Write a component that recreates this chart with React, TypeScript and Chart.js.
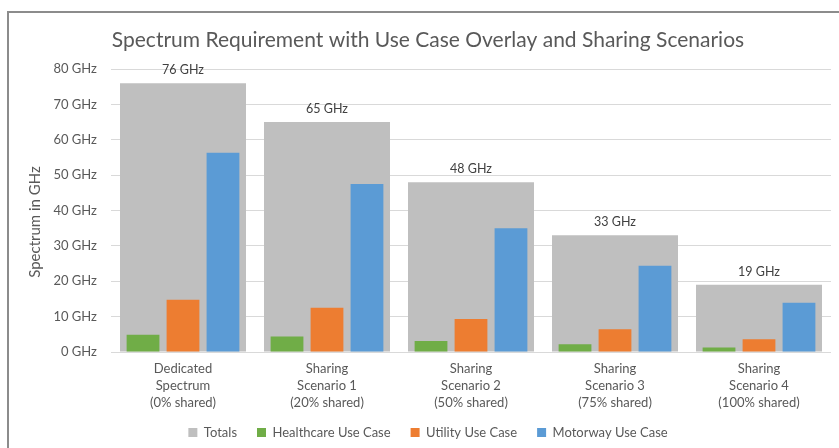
import React, { useEffect, useRef } from "react";
import { Chart, registerables } from "chart.js";

Chart.register(...registerables);

const categories: string[][] = [
  ["Dedicated", "Spectrum", "(0% shared)"],
  ["Sharing", "Scenario 1", "(20% shared)"],
  ["Sharing", "Scenario 2", "(50% shared)"],
  ["Sharing", "Scenario 3", "(75% shared)"],
  ["Sharing", "Scenario 4", "(100% shared)"],
];
const totals = [76, 65, 48, 33, 19];
const healthcare = [4.9, 4.4, 3.1, 2.2, 1.3];
const utility = [14.8, 12.5, 9.3, 6.4, 3.6];
const motorway = [56.3, 47.5, 35.0, 24.4, 13.9];
const yTicks = [0, 10, 20, 30, 40, 50, 60, 70, 80];
const yTitle = "Spectrum in GHz";

const FONT = "Lato, 'Open Sans', sans-serif";
const TXT = "#595959";

const totalsLabelPlugin = {
  id: "totalsLabels",
  afterDatasetsDraw(chart: any) {
    const meta = chart.getDatasetMeta(0);
    const ctx = chart.ctx;
    ctx.save();
    ctx.font = `12.5px ${FONT}`;
    ctx.fillStyle = "#404040";
    ctx.textAlign = "center";
    ctx.textBaseline = "middle";
    meta.data.forEach((bar: any, i: number) => {
      ctx.fillText(`${totals[i]} GHz`, bar.x, bar.y - 13);
    });
    ctx.restore();
  },
};

const yTitlePlugin = {
  id: "yTitle",
  afterDraw(chart: any) {
    const ctx = chart.ctx;
    ctx.save();
    ctx.translate(35, 222);
    ctx.rotate(-Math.PI / 2);
    ctx.font = `15px ${FONT}`;
    ctx.fillStyle = TXT;
    ctx.textAlign = "center";
    ctx.textBaseline = "middle";
    ctx.fillText(yTitle, 0, 0);
    ctx.restore();
  },
};

export default function App() {
  const ref = useRef<HTMLCanvasElement>(null);
  useEffect(() => {
    if (!ref.current) return;
    const chart = new Chart(ref.current, {
      type: "bar",
      data: {
        labels: categories as any,
        datasets: [
          {
            label: "Totals",
            data: totals,
            backgroundColor: "#bfbfbf",
            grouped: false,
            order: 1,
            barPercentage: 0.875,
            categoryPercentage: 1,
          } as any,
          {
            label: "Healthcare Use Case",
            data: healthcare,
            backgroundColor: "#70ad47",
            order: 0,
            barPercentage: 0.82,
            categoryPercentage: 0.833,
          },
          {
            label: "Utility Use Case",
            data: utility,
            backgroundColor: "#ed7d31",
            order: 0,
            barPercentage: 0.82,
            categoryPercentage: 0.833,
          },
          {
            label: "Motorway Use Case",
            data: motorway,
            backgroundColor: "#5b9bd5",
            order: 0,
            barPercentage: 0.82,
            categoryPercentage: 0.833,
          },
        ],
      },
      options: {
        animation: false,
        responsive: false,
        layout: { padding: { left: 25, right: 8, top: 0, bottom: 0 } },
        plugins: {
          title: {
            display: true,
            text: "Spectrum Requirement with Use Case Overlay and Sharing Scenarios",
            color: TXT,
            font: { family: FONT, size: 21, weight: "normal" },
            padding: { top: 27.4, bottom: 16.4 },
          },
          legend: {
            position: "bottom",
            maxHeight: 42,
            labels: {
              boxWidth: 9,
              boxHeight: 9,
              color: TXT,
              font: { family: FONT, size: 13 },
              padding: 20,
              sort: (a: any, b: any) => a.datasetIndex - b.datasetIndex,
            },
          },
          tooltip: { enabled: false },
        },
        scales: {
          x: {
            grid: { display: false },
            border: { display: false },
            ticks: {
              color: TXT,
              font: { family: FONT, size: 13, lineHeight: 17 / 13 },
              padding: 0.5,
              maxRotation: 0,
              autoSkip: false,
            },
            afterFit: (s: any) => {
              s.height = 54;
            },
            afterUpdate: (s: any) => {
              s._computeLabelArea = () => undefined;
            },
          },
          y: {
            min: 0,
            max: 80,
            afterBuildTicks: (s: any) => {
              s.ticks = yTicks.map((v) => ({ value: v }));
            },
            grid: { color: "#d9d9d9", drawTicks: false },
            border: { display: false },
            ticks: {
              color: TXT,
              font: { family: FONT, size: 13 },
              padding: 14,
              callback: (v: any) => `${v} GHz`,
            },
            afterFit: (s: any) => {
              s.width = 86;
            },
          },
        },
      },
      plugins: [totalsLabelPlugin, yTitlePlugin],
    });
    return () => chart.destroy();
  }, []);

  return (
    <div style={{ position: "fixed", left: 0, top: 0, width: 839, height: 448, background: "#fff", overflow: "hidden" }}>
      <div
        style={{
          position: "absolute",
          left: 7,
          top: 11,
          width: 900,
          height: 500,
          borderLeft: "2px solid #8c8c8c",
          borderTop: "2px solid #8c8c8c",
        }}
      />
      <canvas ref={ref} width={839} height={448} style={{ position: "absolute", left: 0, top: 0 }} />
    </div>
  );
}
